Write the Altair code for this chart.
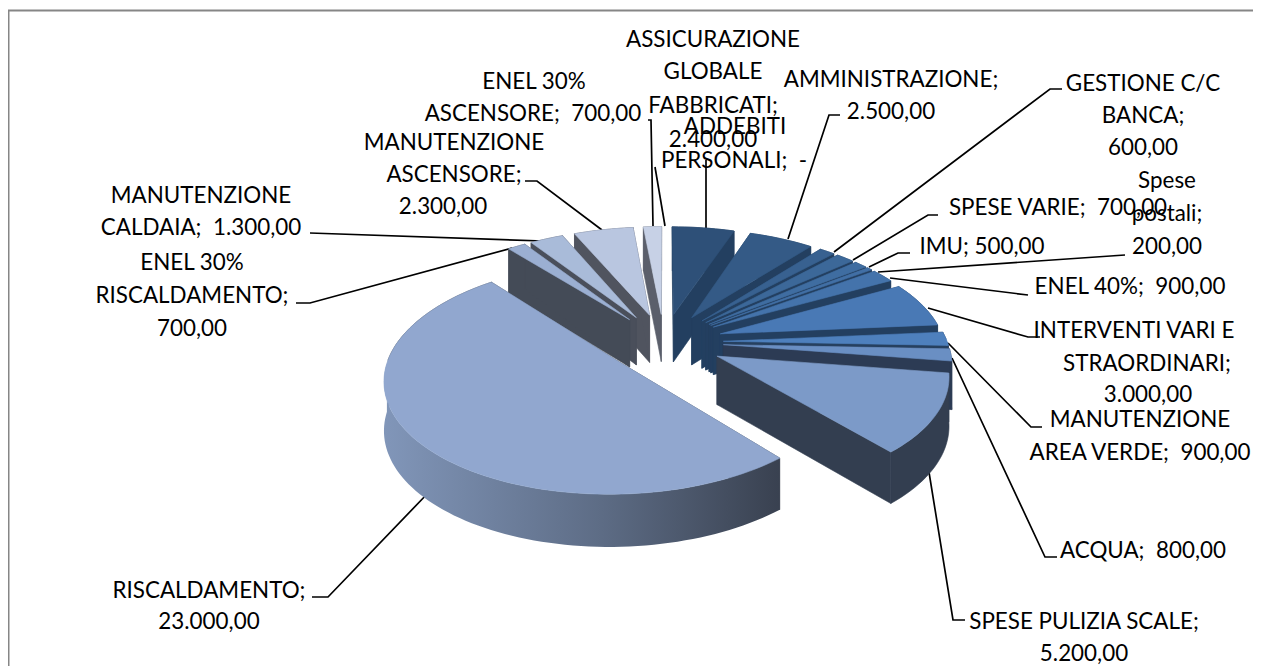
import math
import altair as alt
import pandas as pd

W, H = 1245, 658
OFF = 8
TEXT_DY = 1.5
NB = "\u00a0"

names = ["ASSICURAZIONE GLOBALE FABBRICATI", "AMMINISTRAZIONE", "GESTIONE C/C BANCA", "SPESE VARIE", "IMU",
         "Spese postali", "ENEL 40%", "INTERVENTI VARI E STRAORDINARI", "MANUTENZIONE AREA VERDE", "ACQUA",
         "SPESE PULIZIA SCALE", "RISCALDAMENTO", "ENEL 30% RISCALDAMENTO", "MANUTENZIONE CALDAIA",
         "MANUTENZIONE ASCENSORE", "ENEL 30% ASCENSORE"]
values = [2400, 2500, 600, 700, 500, 200, 900, 3000, 900, 800, 5200, 23000, 700, 1300, 2300, 700]
top_colors = ["#2E5078", "#345A86", "#386190", "#3C6899", "#3F6DA1", "#416FA5", "#4473AB", "#4979B5", "#4E80BD",
              "#6A8FC3", "#7C9AC8", "#91A7CF", "#9BAFD2", "#A9BBD9", "#B9C6E0", "#C7D1E6"]
wall_colors = ["#233F60", "#233F60", "#233F60", "#233F60", "#233F60", "#233F60", "#233F60", "#233F60", "#26405F",
               "#2C3B54", "#333E50", "#434A58", "#444B57", "#4A4F5B", "#50545F", "#5B5F6B"]

label_lines = [
    ("ASSICURAZIONE", 713, 38), ("GLOBALE", 713, 70), ("FABBRICATI;", 713, 104), ("2.400,00", 713, 138),
    ("ENEL 30%", 534, 80), ("ASCENSORE;" + NB + NB + "700,00", 533, 112),
    ("ADDEBITI", 735, 125), ("PERSONALI;" + NB + NB + "-", 734, 159),
    ("AMMINISTRAZIONE;", 891, 78), ("2.500,00", 891, 110),
    ("GESTIONE C/C", 1143, 82), ("BANCA;", 1143, 114), ("600,00", 1143, 146),
    ("Spese", 1167, 179), ("postali;", 1167, 212), ("200,00", 1167, 245),
    ("SPESE VARIE;" + NB + NB + "700,00", 1058, 206),
    ("IMU; 500,00", 982, 245),
    ("ENEL 40%;" + NB + NB + "900,00", 1130, 285),
    ("INTERVENTI VARI E", 1134, 329), ("STRAORDINARI;", 1147, 362), ("3.000,00", 1148, 393),
    ("MANUTENZIONE", 1140, 418), ("AREA VERDE;" + NB + NB + "900,00", 1140, 451),
    ("ACQUA;" + NB + NB + "800,00", 1143, 549),
    ("SPESE PULIZIA SCALE;", 1084, 620), ("5.200,00", 1084, 652),
    ("RISCALDAMENTO;", 209, 589), ("23.000,00", 209, 620),
    ("ENEL 30%", 192, 261), ("RISCALDAMENTO;", 192, 294), ("700,00", 192, 327),
    ("MANUTENZIONE", 201, 194), ("CALDAIA;" + NB + NB + "1.300,00", 201, 226),
    ("MANUTENZIONE", 454, 141), ("ASCENSORE;", 454, 173), ("2.300,00", 443, 205),
]

leaders = [
    [(706, 160), (706, 228)],
    [(648, 120), (651, 120), (653, 226)],
    [(655, 167), (665, 226)],
    [(840, 115), (829, 115), (788, 239)],
    [(1062, 89), (1050, 89), (834, 252)],
    [(938, 215), (928, 215), (853, 260)],
    [(910, 253), (898, 253), (869, 267)],
    [(1125, 255), (878, 272)],
    [(1028, 295), (890, 278)],
    [(1040, 337), (1028, 337), (928, 308)],
    [(1042, 427), (1031, 427), (948, 343)],
    [(1057, 557), (1045, 557), (952, 358)],
    [(965, 620), (953, 620), (928, 466)],
    [(312, 597), (328, 597), (429, 492)],
    [(296, 303), (310, 303), (512, 248)],
    [(310, 233), (543, 241)],
    [(525, 181), (537, 181), (602, 230)],
]

# projection of the tilted, exploded pie
CX, CY, RX, RY, K, HT, EXPLODE = 664, 342, 224, 108, 0.145, 48, 0.265


def project(px, py, drop=0.0):
    p = 1 / (1 + K * py)
    return (CX + RX * px * p - OFF, CY - RY * py * p + drop * p ** 0.5 - OFF)


def poly(points, color):
    ring = [list(q) for q in points] + [list(points[0])]
    return {"type": "Feature", "geometry": {"type": "Polygon", "coordinates": [ring]},
            "properties": {"color": color}}


def band(rim_pts, color):
    return poly([project(*r) for r in rim_pts] + [project(*r, HT) for r in reversed(rim_pts)], color)


total = sum(values)
slices, cum = [], 0.0
for v, top, wall in zip(values, top_colors, wall_colors):
    a0, a1 = cum / total * 2 * math.pi, (cum + v) / total * 2 * math.pi
    cum += v
    slices.append((a0, a1, top, wall))

features, big_rim, big_top = [], [], []
for a0, a1, top, wall in sorted(slices, key=lambda s: -math.cos((s[0] + s[1]) / 2)):
    mid = (a0 + a1) / 2
    ax, ay = EXPLODE * math.sin(mid), EXPLODE * math.cos(mid)
    n = max(2, int((a1 - a0) / 0.03))
    angs = [a0 + (a1 - a0) * i / n for i in range(n + 1)]
    rim = [(ax + math.sin(t), ay + math.cos(t)) for t in angs]
    big = (a1 - a0) > 2
    back = [r for r, t in zip(rim, angs) if math.cos(t) > 0]
    front = [r for r, t in zip(rim, angs) if math.cos(t) <= 0]

    if len(back) > 1:
        features.append(band(back, wall))
    for e in (rim[0], rim[-1]):
        features.append(poly([project(ax, ay), project(*e), project(*e, HT), project(ax, ay, HT)], wall))
    top_poly = poly([project(ax, ay)] + [project(*r) for r in rim], top)
    if big:
        big_rim.append(band(front, wall))
        big_top.append(top_poly)
    else:
        if len(front) > 1:
            features.append(band(front, wall))
        features.append(top_poly)

x_s = alt.Scale(domain=[0, W], range=[0, W])
y_s = alt.Scale(domain=[0, H], range=[0, H])
identity = dict(type="identity", scale=1, translate=[0, 0])

pie = alt.Chart(alt.Data(values=features)).mark_geoshape(strokeWidth=0.6).encode(
    color=alt.Color("properties.color:N", scale=None),
    stroke=alt.Stroke("properties.color:N", scale=None),
).project(**identity)

rim_layer = alt.Chart(alt.Data(values=big_rim)).mark_geoshape(
    stroke=None,
    fill=alt.Gradient(gradient="linear", x1=0, x2=1, y1=0, y2=0,
                      stops=[alt.GradientStop(color="#8196B9", offset=0),
                             alt.GradientStop(color="#5D6C85", offset=0.55),
                             alt.GradientStop(color="#394150", offset=1)]),
).project(**identity)

top_layer = alt.Chart(alt.Data(values=big_top)).mark_geoshape(strokeWidth=0.6).encode(
    color=alt.Color("properties.color:N", scale=None),
    stroke=alt.Stroke("properties.color:N", scale=None),
).project(**identity)

line_rows = []
for g, pts in enumerate(leaders):
    for o, (x, y) in enumerate(pts):
        line_rows.append({"g": g, "o": o, "x": x - OFF, "y": y - OFF})
lines = alt.Chart(pd.DataFrame(line_rows)).mark_line(color="#000000", strokeWidth=1.7).encode(
    x=alt.X("x:Q", scale=x_s, axis=None),
    y=alt.Y("y:Q", scale=y_s, axis=None),
    detail="g:N",
    order="o:Q",
)

text_df = pd.DataFrame([{"t": t, "x": x - OFF, "y": y - OFF + TEXT_DY} for t, x, y in label_lines])
texts = alt.Chart(text_df).mark_text(font="Lato", fontSize=22.4, color="#000000", align="center",
                                     baseline="middle").encode(
    x=alt.X("x:Q", scale=x_s, axis=None),
    y=alt.Y("y:Q", scale=y_s, axis=None),
    text="t:N",
)

frame = alt.Chart(pd.DataFrame({"x": [0.5, 0.5, W], "y": [H, 2.4, 2.4], "o": [0, 1, 2]})).mark_line(
    color="#868686", strokeWidth=2).encode(
    x=alt.X("x:Q", scale=x_s, axis=None),
    y=alt.Y("y:Q", scale=y_s, axis=None),
    order="o:Q",
)

chart = alt.layer(frame, lines, pie, rim_layer, top_layer, texts).properties(
    width=W, height=H, padding=0, autosize=alt.AutoSizeParams(type="none"), background="#ffffff"
).configure_view(stroke=None)

chart.save("out.html", embed_options={"renderer": "svg", "actions": False})
